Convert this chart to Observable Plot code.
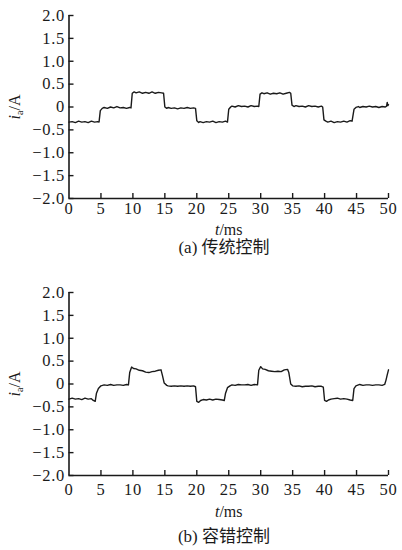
<!DOCTYPE html>
<html>
<head>
<meta charset="utf-8">
<script src="https://cdn.jsdelivr.net/npm/d3@7"></script>
<script src="https://cdn.jsdelivr.net/npm/@observablehq/plot@0.6"></script>
<style>
  html, body { margin: 0; padding: 0; background: #fff; }
  #wrap { position: relative; width: 402px; height: 550px; overflow: hidden; }
  .panel { position: absolute; left: 0; }
  .panel text { font-family: "Liberation Serif", "Times New Roman", Tinos, "DejaVu Serif", serif !important; }
  .panel g[aria-label$="tick label"] text { letter-spacing: 0.7px; }
  .cap { position: absolute; left: 0; width: 448px; text-align: center;
         font-family: "Liberation Serif", "Times New Roman", "Noto Sans CJK SC", serif; font-size: 17px;
         line-height: 18px; color: #1a1a1a; }
</style>
</head>
<body>
<div id="wrap"></div>
<script>
// ---- data ----
const xTicks = [0, 5, 10, 15, 20, 25, 30, 35, 40, 45, 50];
const xTickLabels = ["0", "5", "10", "15", "20", "25", "30", "35", "40", "45", "50"];
const yTicks = [-2, -1.5, -1, -0.5, 0, 0.5, 1, 1.5, 2];
const yTickLabels = ["−2.0", "−1.5", "−1.0", "−0.5", "0", "0.5", "1.0", "1.5", "2.0"];
const captions = ["(a) 传统控制", "(b) 容错控制"];

// (a) conventional control: time (ms) and phase current i_a (A)
const tA = [0, 0.5, 1, 1.5, 2, 2.5, 3, 3.5, 4, 4.5, 4.7, 4.9, 5.2, 5.5, 6, 6.5, 7, 7.5, 8, 8.5, 9, 9.5, 9.7,
  9.9, 10.2, 10.5, 11, 11.5, 12, 12.5, 13, 13.5, 14, 14.5, 14.8, 15.0, 15.3, 15.5, 16, 16.5, 17, 17.5, 18, 18.5, 19, 19.5, 19.8,
  20.0, 20.3, 20.5, 21, 21.5, 22, 22.5, 23, 23.5, 24, 24.5, 24.8, 25.0, 25.3, 25.5, 26, 26.5, 27, 27.5, 28, 28.5, 29, 29.5, 29.7,
  29.9, 30.2, 30.5, 31, 31.5, 32, 32.5, 33, 33.5, 34, 34.5, 34.7, 34.9, 35.2, 35.5, 36, 36.5, 37, 37.5, 38, 38.5, 39, 39.5, 39.7,
  39.9, 40.2, 40.5, 41, 41.5, 42, 42.5, 43, 43.5, 44, 44.3, 44.6, 44.9, 45.3, 45.5, 46, 46.5, 47, 47.5, 48, 48.5, 49, 49.5, 49.7, 49.8, 49.9, 50];
const iA = [-0.33, -0.32, -0.34, -0.31, -0.33, -0.32, -0.34, -0.31, -0.33, -0.32, -0.33, -0.08, -0.03, -0.01, -0.03, 0.0, -0.02, 0.01, -0.02, -0.01, -0.03, -0.01, -0.02,
  0.30, 0.33, 0.31, 0.33, 0.30, 0.32, 0.30, 0.33, 0.30, 0.32, 0.31, 0.30, 0.0, -0.03, -0.01, -0.03, -0.02, -0.04, -0.02, -0.03, -0.01, -0.03, -0.02, -0.03,
  -0.30, -0.34, -0.32, -0.34, -0.32, -0.33, -0.31, -0.34, -0.32, -0.33, -0.31, -0.33, -0.05, 0.0, 0.02, 0.0, 0.03, 0.01, 0.02, 0.0, 0.03, 0.01, 0.02, 0.01,
  0.28, 0.31, 0.29, 0.31, 0.28, 0.30, 0.29, 0.31, 0.28, 0.30, 0.32, 0.30, 0.04, 0.01, 0.03, 0.01, 0.02, 0.0, 0.03, 0.01, 0.02, 0.0, 0.02, 0.0,
  -0.28, -0.31, -0.33, -0.31, -0.34, -0.32, -0.33, -0.31, -0.33, -0.30, -0.31, -0.05, -0.01, 0.01, -0.01, 0.01, 0.0, 0.02, 0.0, 0.01, -0.01, 0.01, 0.0, 0.02, 0.10, 0.03, 0.05];

// (b) fault-tolerant control
const tB = [0, 0.5, 1, 1.5, 2, 2.5, 3, 3.5, 3.8, 4.1, 4.3, 4.6, 5.0, 5.5, 6, 6.5, 7, 7.5, 8, 8.5, 9, 9.3,
  9.5, 9.8, 10.1, 10.5, 11, 11.5, 12, 12.5, 13, 13.5, 14, 14.4, 14.6, 14.9, 15.3, 15.5, 16, 16.5, 17, 17.5, 18, 18.5, 19, 19.5, 19.8,
  20.0, 20.3, 20.6, 21, 21.5, 22, 22.5, 23, 23.5, 24, 24.3, 24.5, 24.8, 25.2, 25.5, 26, 26.5, 27, 27.5, 28, 28.5, 29, 29.5,
  29.7, 30.0, 30.3, 30.7, 31.2, 31.7, 32.2, 32.7, 33.2, 33.7, 34.2, 34.4, 34.7, 35.0, 35.5, 36, 36.5, 37, 37.5, 38, 38.5, 39, 39.5, 39.8,
  40.0, 40.3, 40.6, 41, 41.5, 42, 42.5, 43, 43.5, 44, 44.4, 44.6, 44.9, 45.3, 45.5, 46, 46.5, 47, 47.5, 48, 48.5, 49, 49.4, 49.6, 49.8, 50];
const iB = [-0.33, -0.31, -0.33, -0.32, -0.34, -0.31, -0.33, -0.32, -0.36, -0.38, -0.20, -0.10, -0.04, -0.02, -0.03, -0.01, -0.03, -0.02, -0.02, -0.03, -0.01, -0.02,
  0.25, 0.37, 0.34, 0.33, 0.30, 0.29, 0.26, 0.25, 0.27, 0.28, 0.30, 0.31, 0.20, 0.02, -0.03, -0.04, -0.05, -0.04, -0.05, -0.04, -0.05, -0.04, -0.05, -0.04, -0.06,
  -0.38, -0.40, -0.36, -0.34, -0.35, -0.33, -0.35, -0.33, -0.34, -0.35, -0.36, -0.20, -0.08, -0.04, -0.02, -0.03, -0.01, -0.02, -0.02, -0.01, -0.03, -0.01, -0.02,
  0.30, 0.38, 0.33, 0.32, 0.29, 0.28, 0.27, 0.28, 0.27, 0.31, 0.32, 0.25, 0.0, -0.04, -0.05, -0.04, -0.06, -0.05, -0.05, -0.04, -0.06, -0.05, -0.05, -0.07,
  -0.36, -0.38, -0.35, -0.33, -0.32, -0.31, -0.33, -0.32, -0.33, -0.35, -0.36, -0.10, -0.04, -0.02, -0.01, -0.03, -0.02, -0.02, -0.03, -0.02, -0.02, -0.03, -0.01, 0.08, 0.20, 0.31];

const serif = "Liberation Serif, Times New Roman, DejaVu Serif, serif";
const ink = "#1a1a1a";

function panel(t, v, o) {
  const data = t.map((d, k) => ({t: d, i: v[k]}));
  const svg = Plot.plot({
    width: 402, height: o.height,
    marginTop: o.mt, marginBottom: o.mb, marginLeft: 68.5, marginRight: 14,
    style: {fontFamily: serif, fontSize: "16px", color: ink, background: "white", overflow: "visible"},
    x: {domain: [0, 50], axis: null},
    y: {domain: [-2, 2], axis: null},
    marks: [
      Plot.axisX(xTicks.slice(1), {tickSize: -5, strokeWidth: 1.4, tickFormat: () => "", label: null}),
      Plot.axisX(xTicks, {tickSize: 0, tickPadding: o.xpad, fontSize: 16.5,
        tickFormat: d => xTickLabels[xTicks.indexOf(d)],
        label: "t/ms", labelAnchor: "center", labelOffset: o.xlo}),
      Plot.axisY(yTicks, {tickSize: -5, strokeWidth: 1.4, tickFormat: () => "", label: null}),
      Plot.axisY(yTicks, {tickSize: 0, tickPadding: 4, fontSize: 16.5,
        tickFormat: d => yTickLabels[yTicks.indexOf(d)],
        label: "i_a/A", labelAnchor: "center", labelOffset: o.ylo}),
      Plot.ruleY([-2], {stroke: ink, strokeWidth: 1.6}),
      Plot.ruleX([0], {stroke: ink, strokeWidth: 1.6}),
      Plot.line(data, {x: "t", y: "i", stroke: ink, strokeWidth: 1.4, curve: "linear"})
    ]
  });
  // rich axis labels (italic symbols, subscript)
  const xl = svg.querySelector('g[aria-label="x-axis label"] text');
  if (xl) { xl.innerHTML = '<tspan font-style="italic">t</tspan>/ms'; xl.setAttribute("font-size", "16"); }
  const yl = svg.querySelector('g[aria-label="y-axis label"] text');
  if (yl) { yl.innerHTML = '<tspan font-style="italic">i</tspan><tspan font-size="10" dy="3">a</tspan><tspan dy="-3">/A</tspan>'; yl.setAttribute("font-size", "16"); }
  svg.classList.add("panel");
  svg.style.top = o.top + "px";
  return svg;
}

const wrap = document.getElementById("wrap");
wrap.appendChild(panel(tA, iA, {top: 0, height: 240, mt: 15, mb: 42, xpad: 4, xlo: 36, ylo: 60}));
const capA = document.createElement("div");
capA.className = "cap"; capA.style.top = "239px"; capA.textContent = captions[0];
wrap.appendChild(capA);
wrap.appendChild(panel(tB, iB, {top: 256, height: 272, mt: 36, mb: 53, xpad: 8, xlo: 41, ylo: 60}));
const capB = document.createElement("div");
capB.className = "cap"; capB.style.top = "528px"; capB.textContent = captions[1];
wrap.appendChild(capB);
</script>
</body>
</html>
